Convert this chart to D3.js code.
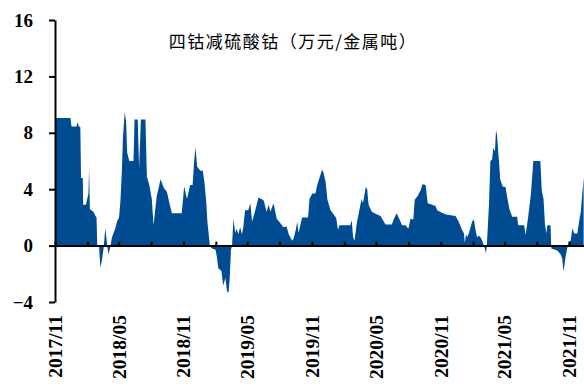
<!DOCTYPE html>
<html>
<head>
<meta charset="utf-8">
<script src="https://cdn.jsdelivr.net/npm/d3@7"></script>
<style>
  html, body { margin: 0; padding: 0; background: #fff; }
  svg { display: block; }
</style>
</head>
<body>
<svg id="chart" width="584" height="386"></svg>
<script>
// 四钴减硫酸钴价差（万元/金属吨）
const title = "四钴减硫酸钴（万元/金属吨）";

const dates = [
  "2017-11-02","2017-12-15","2017-12-18","2018-01-01","2018-01-04","2018-01-08","2018-01-12","2018-01-14",
  "2018-01-19","2018-01-20","2018-01-28","2018-02-04","2018-02-06","2018-02-08","2018-02-18","2018-02-24",
  "2018-02-27","2018-03-01","2018-03-06","2018-03-10","2018-03-15","2018-03-19","2018-03-24","2018-03-28",
  "2018-04-02","2018-04-07","2018-04-12","2018-04-21","2018-04-26","2018-05-02","2018-05-06","2018-05-10",
  "2018-05-13","2018-05-18","2018-05-22","2018-05-25","2018-05-31","2018-06-12","2018-06-15","2018-06-24",
  "2018-06-28","2018-07-03","2018-07-16","2018-07-20","2018-07-27","2018-08-03","2018-08-08","2018-08-17",
  "2018-08-28","2018-09-06","2018-09-15","2018-09-24","2018-09-29","2018-10-27","2018-11-03","2018-11-11",
  "2018-11-20","2018-11-27","2018-12-01","2018-12-05","2018-12-10","2018-12-19","2018-12-26","2018-12-31",
  "2019-01-05","2019-01-08","2019-01-15","2019-01-21","2019-01-31","2019-02-04","2019-02-08","2019-02-17",
  "2019-02-22","2019-02-28","2019-03-05","2019-03-09","2019-03-12","2019-03-16","2019-03-19","2019-03-23",
  "2019-03-28","2019-04-01","2019-04-06","2019-04-11","2019-04-16","2019-04-20","2019-04-25","2019-05-04",
  "2019-05-10","2019-05-15","2019-05-24","2019-06-02","2019-06-07","2019-06-17","2019-06-25","2019-07-01",
  "2019-07-06","2019-07-15","2019-07-24","2019-08-03","2019-08-12","2019-08-21","2019-08-27","2019-09-06",
  "2019-09-10","2019-09-16","2019-09-20","2019-09-24","2019-10-04","2019-10-21","2019-10-25","2019-11-02",
  "2019-11-11","2019-11-16","2019-11-25","2019-11-30","2019-12-04","2019-12-10","2019-12-15","2019-12-24",
  "2020-01-02","2020-01-09","2020-01-14","2020-01-18","2020-02-18","2020-02-22","2020-02-26","2020-03-01",
  "2020-03-08","2020-03-13","2020-03-21","2020-03-25","2020-04-02","2020-04-06","2020-04-10","2020-04-19",
  "2020-05-04","2020-05-14","2020-05-21","2020-05-28","2020-06-15","2020-06-21","2020-06-29","2020-07-05",
  "2020-07-14","2020-07-24","2020-08-01","2020-08-07","2020-08-15","2020-08-19","2020-08-27","2020-09-05",
  "2020-09-10","2020-09-19","2020-09-25","2020-10-08","2020-10-17","2020-10-22","2020-11-03","2020-11-16",
  "2020-12-13","2020-12-22","2020-12-30","2021-01-06","2021-01-08","2021-01-12","2021-01-15","2021-01-20",
  "2021-01-29","2021-02-03","2021-02-08","2021-02-12","2021-02-17","2021-02-22","2021-02-27","2021-03-06",
  "2021-03-10","2021-03-13","2021-03-18","2021-03-22","2021-03-27","2021-03-30","2021-04-04","2021-04-07",
  "2021-04-10","2021-04-15","2021-04-19","2021-04-26","2021-05-04","2021-05-09","2021-05-15","2021-05-23",
  "2021-06-06","2021-06-09","2021-06-26","2021-06-30","2021-07-07","2021-07-15","2021-07-22","2021-08-11",
  "2021-08-15","2021-08-20","2021-08-24","2021-08-28","2021-08-31","2021-09-09","2021-09-11","2021-09-28",
  "2021-10-07","2021-10-12","2021-10-16","2021-10-21","2021-10-26","2021-10-31","2021-11-05","2021-11-10",
  "2021-11-15","2021-11-24","2021-11-29","2021-12-04","2021-12-07","2021-12-12"
];

const spread = [
  9.05, 9.05, 8.45, 8.45, 8.75, 8.45, 8.4, 4.8,
  4.8, 2.9, 2.9, 3.7, 5.5, 2.6, 2.4, 2.1,
  2.0, 0, 0, -1.6, -0.9, -0.2, 1.25, 0.3,
  -0.65, -0.1, 0.6, 1.2, 1.7, 2.0, 3.2, 5.3,
  7.6, 9.45, 8.8, 6.6, 6.0, 6.0, 8.95, 8.95,
  5.5, 8.95, 8.95, 4.9, 4.3, 3.3, 1.45, 3.5,
  4.7, 4.1, 3.8, 2.8, 2.3, 2.3, 4.2, 3.3,
  4.3, 4.3, 5.9, 7.0, 5.6, 5.3, 5.3, 4.4,
  3.0, 1.7, 0, -0.2, -0.3, -0.8, -1.6, -1.8,
  -2.85, -2.3, -3.25, -3.35, -2.5, -0.3, 0, 1.9,
  0.9, 1.2, 0.8, 1.3, 0.8, 1.3, 2.5, 2.5,
  3.0, 1.7, 2.5, 3.4, 3.35, 3.2, 2.4, 2.9,
  2.4, 3.0, 1.9, 1.6, 1.3, 1.35, 0.8, 0.35,
  0.5, 1.1, 1.7, 0.9, 2.0, 2.0, 3.3, 3.7,
  3.7, 4.3, 5.0, 5.4, 5.15, 4.5, 3.25, 2.5,
  2.2, 1.95, 1.1, 1.45, 1.45, 1.8, 0.6, 0.35,
  1.7, 2.3, 3.3, 3.0, 4.15, 4.0, 2.9, 2.4,
  2.2, 2.1, 1.8, 1.5, 1.5, 1.9, 2.3, 1.95,
  1.45, 1.45, 1.2, 1.9, 1.85, 3.25, 3.5, 3.95,
  4.35, 4.3, 3.0, 2.9, 2.8, 2.5, 2.35, 2.2,
  2.1, 1.7, 1.2, 0.85, 0.2, 0.8, 0.6, 0.9,
  1.7, 1.85, 1.1, 0.6, 0.7, 0.6, 0.35, -0.2,
  -0.55, 0.5, 2.9, 6.0, 6.1, 6.9, 6.7, 8.2,
  7.8, 6.1, 4.7, 4.2, 4.15, 3.4, 2.6, 2.05,
  2.05, 1.45, 1.45, 0.75, 1.95, 3.6, 6.0, 6.0,
  3.9, 3.3, 1.55, 0.85, 1.45, 1.45, -0.2, -0.35,
  -0.6, -0.9, -1.85, -0.9, -0.2, 0.3, 0.3, 1.25,
  0.85, 0.85, 1.7, 2.4, 3.4, 4.8
];

const yTicks = [-4, 0, 4, 8, 12, 16];
const xStart = "2017-11-01";
const xEnd = "2021-12-13";

const parse = d3.timeParse("%Y-%m-%d");
const series = dates.map((d, i) => ({ date: parse(d), value: spread[i] }));

const svg = d3.select("#chart");
const plot = { left: 55, right: 584, top: 20, bottom: 302 };

const x = d3.scaleTime()
  .domain([parse(xStart), parse(xEnd)])
  .range([plot.left, plot.right]);

const y = d3.scaleLinear()
  .domain([-4, 16])
  .range([plot.bottom, plot.top]);

const serif = "'Liberation Serif', 'Times New Roman', serif";

// filled spread area against the zero baseline
const area = d3.area()
  .x(d => x(d.date))
  .y0(y(0))
  .y1(d => y(d.value));

svg.append("path")
  .datum(series)
  .attr("fill", "#004C93")
  .attr("d", area);

// title
svg.append("text")
  .attr("x", 293)
  .attr("y", 48)
  .attr("text-anchor", "middle")
  .attr("font-family", "'Noto Sans CJK SC', sans-serif")
  .attr("font-size", 17)
  .attr("letter-spacing", 1.5)
  .attr("fill", "#000")
  .text(title);

// y axis
const yAxis = svg.append("g")
  .attr("transform", `translate(${plot.left},0)`)
  .call(d3.axisLeft(y).tickValues(yTicks).tickSize(6).tickSizeOuter(0).tickFormat(d3.format("d")));
yAxis.select(".domain").attr("stroke", "#000").attr("stroke-width", 2);
yAxis.selectAll(".tick line").attr("stroke", "#000").attr("stroke-width", 2);
yAxis.selectAll(".tick text")
  .attr("x", -22)
  .attr("font-family", serif)
  .attr("font-weight", "bold")
  .attr("font-size", 19)
  .attr("fill", "#000");

// x axis along zero: quarterly ticks pointing up, labels every six months at the bottom
const quarterTicks = d3.timeMonth.range(parse(xStart), parse(xEnd), 3);
const xAxis = svg.append("g")
  .attr("transform", `translate(0,${y(0)})`)
  .call(d3.axisTop(x).tickValues(quarterTicks).tickSize(4).tickSizeOuter(0).tickFormat(""));
xAxis.select(".domain").attr("stroke", "#000").attr("stroke-width", 2);
xAxis.selectAll(".tick line").attr("stroke", "#000").attr("stroke-width", 2);

const labelTicks = d3.timeMonth.range(parse(xStart), parse(xEnd), 6);
const fmt = d3.timeFormat("%Y/%m");
svg.append("g")
  .selectAll("text")
  .data(labelTicks)
  .join("text")
  .attr("transform", d => `translate(${x(d) + 7},315) rotate(-90)`)
  .attr("text-anchor", "end")
  .attr("font-family", serif)
  .attr("font-weight", "bold")
  .attr("font-size", 19.5)
  .attr("fill", "#000")
  .text(d => fmt(d));
</script>
</body>
</html>
